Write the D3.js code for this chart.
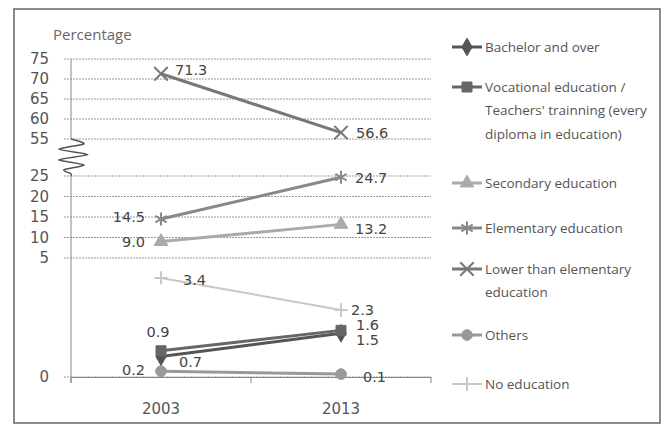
<!DOCTYPE html>
<html>
<head>
<meta charset="utf-8">
<script src="https://cdn.jsdelivr.net/npm/d3@7"></script>
<style>
  body { margin: 0; background: #fff; }
  svg { display: block; }
</style>
</head>
<body>
<div class="chart"></div>
<script>
// data
const years = ["2003", "2013"];
const seriesNames = [
    "Bachelor and over",
    "Vocational education / Teachers' trainning (every diploma in education)",
    "Secondary education",
    "Elementary education",
    "Lower than elementary education",
    "Others",
    "No education"
];
const bachelor = [0.7, 1.5];
const vocational = [0.9, 1.6];
const secondary = [9.0, 13.2];
const elementary = [14.5, 24.7];
const lowerElementary = [71.3, 56.6];
const others = [0.2, 0.1];
const noEducation = [3.4, 2.3];
const yTicks = [0, 5, 10, 15, 20, 25, 55, 60, 65, 70, 75];

const width = 667, height = 426;

const svg = d3.select(".chart").append("svg")
    .attr("width", width)
    .attr("height", height)
    .attr("viewBox", [0, 0, width, height]);

// outer frame
svg.append("rect")
    .attr("x", 14).attr("y", 9)
    .attr("width", 646).attr("height", 414)
    .attr("fill", "none")
    .attr("stroke", "#666")
    .attr("stroke-width", 1.5);

// scales - broken axis (0-5 stretched, 25..55 cut out)
const x = d3.scaleBand().domain(years).range([71, 431]);
const y = d3.scaleLinear()
    .domain([0, 3.5, 5, 25, 55, 75])
    .range([377, 275, 258, 176, 139, 59]);
const cx = d => x(d) + x.bandwidth() / 2;

// gridlines
svg.append("g")
    .selectAll("line")
    .data(yTicks)
    .join("line")
    .attr("x1", 64).attr("x2", 431)
    .attr("y1", d => y(d)).attr("y2", d => y(d))
    .attr("stroke", "#999")
    .attr("stroke-width", 1)
    .attr("stroke-dasharray", "2,1");

// y tick labels
svg.append("g")
    .attr("transform", "translate(49,0)")
    .call(d3.axisLeft(y).tickValues(yTicks).tickSize(0).tickPadding(0))
    .call(g => g.select(".domain").remove())
    .selectAll("text")
    .attr("font-family", "DejaVu Sans")
    .attr("font-size", 15)
    .attr("fill", "#555");

// y axis line with break
svg.append("line")
    .attr("x1", 71).attr("x2", 71)
    .attr("y1", y(75)).attr("y2", y(55))
    .attr("stroke", "#888");
svg.append("line")
    .attr("x1", 71).attr("x2", 71)
    .attr("y1", y(25)).attr("y2", y(0) + 6)
    .attr("stroke", "#888");

// the zigzag break mark
const brTop = y(55), brBot = y(25), brH = brBot - brTop;
const squiggle = [[71, brTop], [84, brTop + brH * 0.13], [59, brTop + brH * 0.28], [88, brTop + brH * 0.42],
    [59, brTop + brH * 0.56], [84, brTop + brH * 0.7], [64, brTop + brH * 0.83], [71, brTop + brH * 0.94], [71, brBot]];
svg.append("path")
    .attr("d", d3.line().curve(d3.curveCardinal.tension(0.3))(squiggle))
    .attr("fill", "none")
    .attr("stroke", "#555")
    .attr("stroke-width", 1.5);

// x axis
svg.append("g")
    .attr("transform", `translate(0,${y(0)})`)
    .call(d3.axisBottom(x).tickSize(0).tickPadding(26))
    .call(g => g.select(".domain").attr("stroke", "#888"))
    .selectAll("text")
    .attr("font-family", "DejaVu Sans")
    .attr("font-size", 15)
    .attr("fill", "#555");
svg.append("g")
    .selectAll("line")
    .data([x.range()[0], x("2013"), x.range()[1]])
    .join("line")
    .attr("x1", d => d).attr("x2", d => d)
    .attr("y1", y(0)).attr("y2", y(0) + 6)
    .attr("stroke", "#888");

svg.append("text")
    .attr("x", 53).attr("y", 40)
    .attr("font-family", "Open Sans")
    .attr("font-size", 15)
    .attr("fill", "#666")
    .text("Percentage");

// series styles
const series = [
    { name: seriesNames[0], values: bachelor, color: "#555", w: 3, sym: d3.symbolDiamond, size: 90, fill: true,
      lab: [["start", 18, 5], ["start", 15, 6]] },
    { name: seriesNames[1], values: vocational, color: "#666", w: 3, sym: d3.symbolSquare, size: 100, fill: true,
      lab: [["middle", -3, -19], ["start", 15, -6]] },
    { name: seriesNames[2], values: secondary, color: "#aaa", w: 3, sym: d3.symbolTriangle, size: 80, fill: true,
      lab: [["end", -16, 0], ["start", 14, 4]] },
    { name: seriesNames[3], values: elementary, color: "#888", w: 3, sym: d3.symbolAsterisk, size: 120, fill: false,
      lab: [["end", -16, -2], ["start", 14, 1]] },
    { name: seriesNames[4], values: lowerElementary, color: "#777", w: 3, sym: d3.symbolX, size: 120, fill: false,
      lab: [["start", 14, -4], ["start", 15, 0]] },
    { name: seriesNames[5], values: others, color: "#999", w: 3, sym: d3.symbolCircle, size: 90, fill: true,
      lab: [["end", -16, -1], ["start", 22, 3]] },
    { name: seriesNames[6], values: noEducation, color: "#c8c8c8", w: 2, sym: d3.symbolPlus, size: 60, fill: false,
      lab: [["start", 22, 2], ["start", 10, 0]] }
];

const line = d3.line().x(d => cx(d.year)).y(d => y(d.v));

// draw from back to front
const drawOrder = [6, 5, 2, 3, 4, 0, 1];
drawOrder.forEach(i => {
    const s = series[i];
    const pts = years.map((yr, j) => ({ year: yr, v: s.values[j] }));
    const g = svg.append("g");
    g.append("path")
        .attr("d", line(pts))
        .attr("fill", "none")
        .attr("stroke", s.color)
        .attr("stroke-width", s.w);
    g.selectAll("path.m")
        .data(pts)
        .join("path")
        .attr("class", "m")
        .attr("transform", d => `translate(${cx(d.year)},${y(d.v)})`)
        .attr("d", d3.symbol(s.sym, s.size))
        .attr("fill", s.fill ? s.color : "none")
        .attr("stroke", s.color)
        .attr("stroke-width", s.fill ? 1 : 2);
});

// data labels
series.forEach(s => {
    svg.append("g")
        .selectAll("text")
        .data(years.map((yr, j) => ({ year: yr, v: s.values[j], lab: s.lab[j] })))
        .join("text")
        .attr("x", d => cx(d.year) + d.lab[1])
        .attr("y", d => y(d.v) + d.lab[2])
        .attr("dy", "0.36em")
        .attr("text-anchor", d => d.lab[0])
        .attr("font-family", "DejaVu Sans")
        .attr("font-size", 14.5)
        .attr("fill", "#444")
        .text(d => d.v.toFixed(1));
});

// legend
const legendLines = [
    ["Bachelor and over"],
    ["Vocational education /", "Teachers' trainning (every", "diploma in education)"],
    ["Secondary education"],
    ["Elementary education"],
    ["Lower than elementary", "education"],
    ["Others"],
    ["No education"]
];
const legendY = [47, 87, 183, 228, 269, 335, 384];

series.forEach((s, i) => {
    const g = svg.append("g").attr("transform", `translate(0,${legendY[i]})`);
    g.append("line")
        .attr("x1", 452).attr("x2", 482)
        .attr("stroke", s.color)
        .attr("stroke-width", s.w);
    g.append("path")
        .attr("transform", "translate(467,0)")
        .attr("d", d3.symbol(s.sym, s.size))
        .attr("fill", s.fill ? s.color : "none")
        .attr("stroke", s.color)
        .attr("stroke-width", s.fill ? 1 : 2);
    g.append("text")
        .attr("font-family", "Open Sans")
        .attr("font-size", 13.5)
        .attr("fill", "#555")
        .selectAll("tspan")
        .data(legendLines[i])
        .join("tspan")
        .attr("x", 485)
        .attr("y", (d, k) => k * 23.5)
        .attr("dy", "0.35em")
        .text(d => d);
});
</script>
</body>
</html>
